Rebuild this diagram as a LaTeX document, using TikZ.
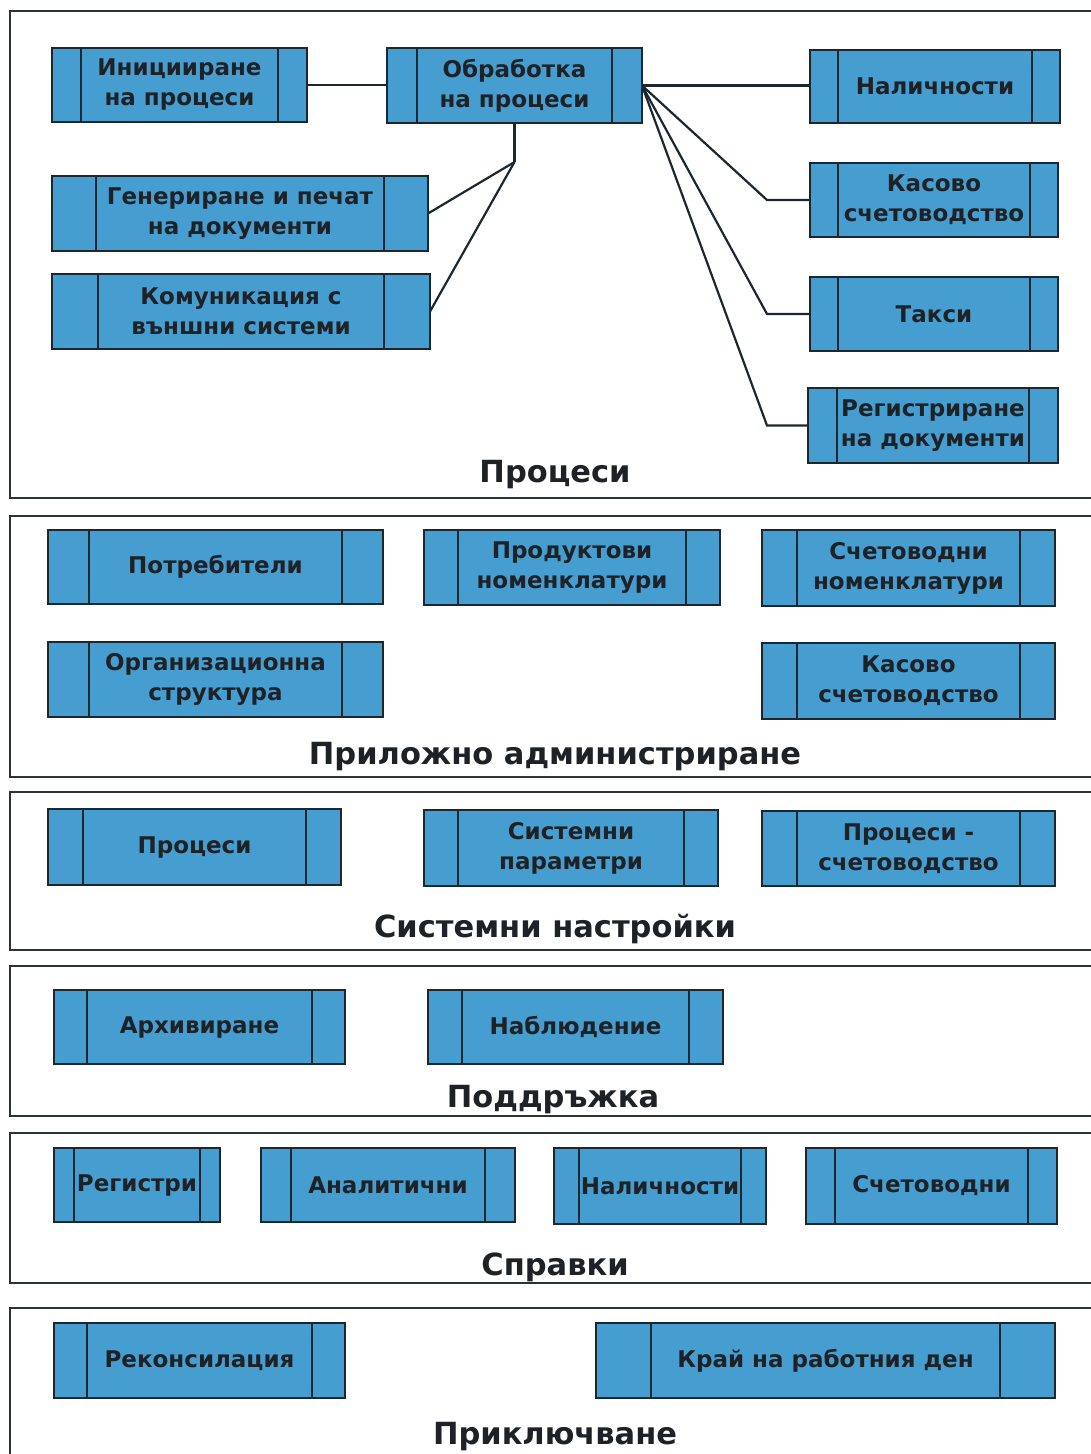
\documentclass[tikz,border=0pt]{standalone}
\usepackage{fontspec}
\setmainfont{DejaVu Sans}

\definecolor{boxfill}{RGB}{70,158,208}
\definecolor{boxline}{RGB}{28,40,48}
\definecolor{frameline}{RGB}{45,50,52}
\definecolor{inktext}{RGB}{30,34,38}

\tikzset{
  procbox/.style={draw=boxline, fill=boxfill, line width=2.4pt, inner sep=0pt,
    outer sep=0pt, align=center, text=inktext,
    font=\bfseries\fontsize{23}{30}\selectfont},
  innerline/.style={draw=boxline, line width=2.2pt},
  link/.style={draw=boxline, line width=2.2pt},
  frame/.style={draw=frameline, line width=2.8pt},
  sectitle/.style={font=\bfseries\fontsize{30.5}{36}\selectfont, text=inktext,
    inner sep=0pt, anchor=base},
}

% #1 name, #2 left, #3 top, #4 right, #5 bottom, #6 inset of the side bars, #7 text
\newcommand\procnode[7]{%
  \node[procbox, minimum width={#4-#2}, minimum height={#5-#3}]
    (#1) at ({(#2+#4)/2},{(#3+#5)/2}) {#7};
  \draw[innerline] ([xshift=#6pt]#1.north west) -- ([xshift=#6pt]#1.south west)
    ([xshift=-#6pt]#1.north east) -- ([xshift=-#6pt]#1.south east);
}

\begin{document}
\begin{tikzpicture}[x=1pt, y=-1pt]
\useasboundingbox (0,0) rectangle (1091,1454);
\fill[white] (0,0) rectangle (1091,1454);

% section frames, open to the right and bottom
\begin{scope}
  \clip (0,0) rectangle (1091,1454);
  \draw[frame] (10,11) rectangle (1110,498);
  \draw[frame] (10,516) rectangle (1110,777);
  \draw[frame] (10,792) rectangle (1110,950);
  \draw[frame] (10,966) rectangle (1110,1116);
  \draw[frame] (10,1133) rectangle (1110,1283);
  \draw[frame] (10,1308) rectangle (1110,1480);
\end{scope}

% Процеси
\procnode{init}{52}{48}{307}{122}{29}{Иницииране\\на процеси}
\procnode{obr}{387}{48}{642}{123}{30}{Обработка\\на процеси}
\procnode{nal}{810}{50}{1060}{123}{28}{Наличности}
\procnode{kas}{810}{163}{1058}{237}{28}{Касово\\счетоводство}
\procnode{taksi}{810}{277}{1058}{351}{28}{Такси}
\procnode{regdoc}{808}{388}{1058}{463}{29}{Регистриране\\на документи}
\procnode{gen}{52}{176}{428}{251}{44}{Генериране и печат\\на документи}
\procnode{kom}{52}{274}{430}{349}{46}{Комуникация с\\външни системи}
\node[sectitle] (t1) at (555,482) {Процеси};

\draw[link] (init.east) -- (init.east -| obr.west);
\draw[link] (obr.east) -- (obr.east -| nal.west);
\coordinate (elbow) at (767,0);
\draw[link] (obr.east) -- (elbow |- kas.west) -- (kas.west);
\draw[link] (obr.east) -- (elbow |- taksi.west) -- (taksi.west);
\draw[link] (obr.east) -- (elbow |- regdoc.west) -- (regdoc.west);
\draw[link] (obr.south) -- ++(0,39) coordinate (split);
\draw[link] (split) -- (gen.east);
\draw[link] (split) -- (kom.east);

% Приложно администриране
\procnode{potr}{48}{530}{383}{604}{41}{Потребители}
\procnode{prod}{424}{530}{720}{605}{34}{Продуктови\\номенклатури}
\procnode{schnom}{762}{530}{1055}{606}{35}{Счетоводни\\номенклатури}
\procnode{org}{48}{642}{383}{717}{41}{Организационна\\структура}
\procnode{kasadm}{762}{643}{1055}{719}{35}{Касово\\счетоводство}
\node[sectitle] (t2) at (555,764) {Приложно администриране};

% Системни настройки
\procnode{proc}{48}{809}{341}{885}{35}{Процеси}
\procnode{sysp}{424}{810}{718}{886}{34}{Системни\\параметри}
\procnode{procsch}{762}{811}{1055}{886}{35}{Процеси -\\счетоводство}
\node[sectitle] (t3) at (555,937) {Системни настройки};

% Поддръжка
\procnode{arh}{54}{990}{345}{1064}{33}{Архивиране}
\procnode{nab}{428}{990}{723}{1064}{34}{Наблюдение}
\node[sectitle] (t4) at (553,1107) {Поддръжка};

% Справки
\procnode{regs}{54}{1148}{220}{1222}{20}{Регистри}
\procnode{anal}{261}{1148}{515}{1222}{30}{Аналитични}
\procnode{nalsp}{554}{1148}{766}{1224}{25}{Наличности}
\procnode{schsp}{806}{1148}{1057}{1224}{29}{Счетоводни}
\node[sectitle] (t5) at (555,1275) {Справки};

% Приключване
\procnode{rek}{54}{1323}{345}{1398}{33}{Реконсилация}
\procnode{kraj}{596}{1323}{1055}{1398}{55}{Край на работния ден}
\node[sectitle] (t6) at (555,1444) {Приключване};
\end{tikzpicture}
\end{document}
